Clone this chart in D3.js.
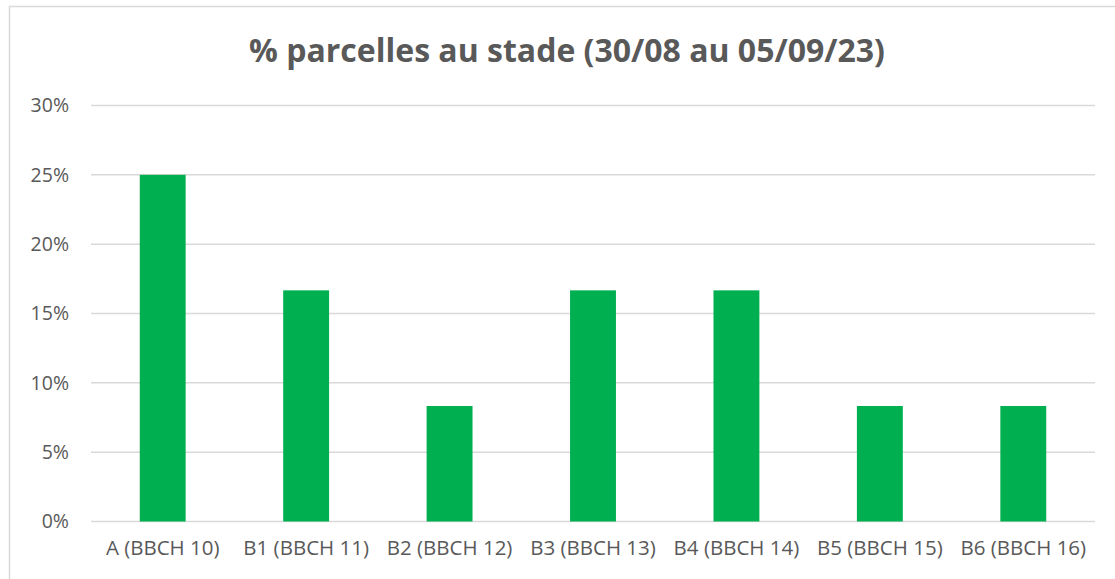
<html>
<head>
<style>
  body { margin: 0; background: #fff; }
  svg { display: block; }
</style>
</head>
<body>
<svg></svg>
<script src="https://d3js.org/d3.v7.min.js"></script>
<script>
  // data
  var categories = ["A (BBCH 10)", "B1 (BBCH 11)", "B2 (BBCH 12)", "B3 (BBCH 13)", "B4 (BBCH 14)", "B5 (BBCH 15)", "B6 (BBCH 16)"];
  var values = [0.25, 0.1667, 0.0833, 0.1667, 0.1667, 0.0833, 0.0833];
  var yTicks = [0, 0.05, 0.10, 0.15, 0.20, 0.25, 0.30];
  var title = "% parcelles au stade (30/08 au 05/09/23)";

  var width = 1115, height = 579;
  var margin = {top: 105.5, right: 20, bottom: 57.5, left: 91};

  var svg = d3.select("svg").attr("width", width).attr("height", height);

  // chart frame
  svg.append("rect")
    .attr("x", 9.5).attr("y", 6.5)
    .attr("width", 1120).attr("height", 600)
    .attr("fill", "#fff")
    .attr("stroke", "#d9d9d9")
    .attr("stroke-width", 1.5);

  var x = d3.scaleBand()
    .domain(categories)
    .range([margin.left, width - margin.right])
    .paddingInner(0.68)
    .paddingOuter(0.34);

  var y = d3.scaleLinear()
    .domain([0, 0.30])
    .range([height - margin.bottom, margin.top]);

  // gridlines
  svg.append("g")
    .selectAll("line")
    .data(yTicks)
    .enter()
    .append("line")
    .attr("x1", margin.left)
    .attr("x2", width - margin.right)
    .attr("y1", function(d) { return y(d); })
    .attr("y2", function(d) { return y(d); })
    .attr("stroke", "#d9d9d9")
    .attr("stroke-width", 1.5);

  // y axis labels
  var yAxis = svg.append("g")
    .attr("transform", "translate(" + (margin.left - 22) + ",0)")
    .call(d3.axisLeft(y).tickValues(yTicks).tickFormat(d3.format(".0%")).tickSize(0).tickPadding(0));
  yAxis.select(".domain").remove();
  yAxis.selectAll("text")
    .attr("fill", "#595959")
    .style("font-family", "'Open Sans', sans-serif")
    .style("font-size", "19.5px");

  // bars
  svg.append("g")
    .selectAll("rect")
    .data(values)
    .enter()
    .append("rect")
    .attr("x", function(d, i) { return x(categories[i]); })
    .attr("width", x.bandwidth())
    .attr("y", function(d) { return y(d); })
    .attr("height", function(d) { return y(0) - y(d); })
    .attr("fill", "#00b050");

  // x axis labels
  var xAxis = svg.append("g")
    .attr("transform", "translate(0," + (height - margin.bottom) + ")")
    .call(d3.axisBottom(x).tickSize(0).tickPadding(19));
  xAxis.select(".domain").remove();
  xAxis.selectAll("text")
    .attr("fill", "#595959")
    .style("font-family", "'Open Sans', sans-serif")
    .style("font-size", "20.5px");

  // title
  svg.append("text")
    .attr("x", 567)
    .attr("y", 62)
    .attr("text-anchor", "middle")
    .attr("fill", "#595959")
    .style("font-family", "'Open Sans', sans-serif")
    .style("font-weight", "bold")
    .style("font-size", "32px")
    .text(title);
</script>
</body>
</html>
